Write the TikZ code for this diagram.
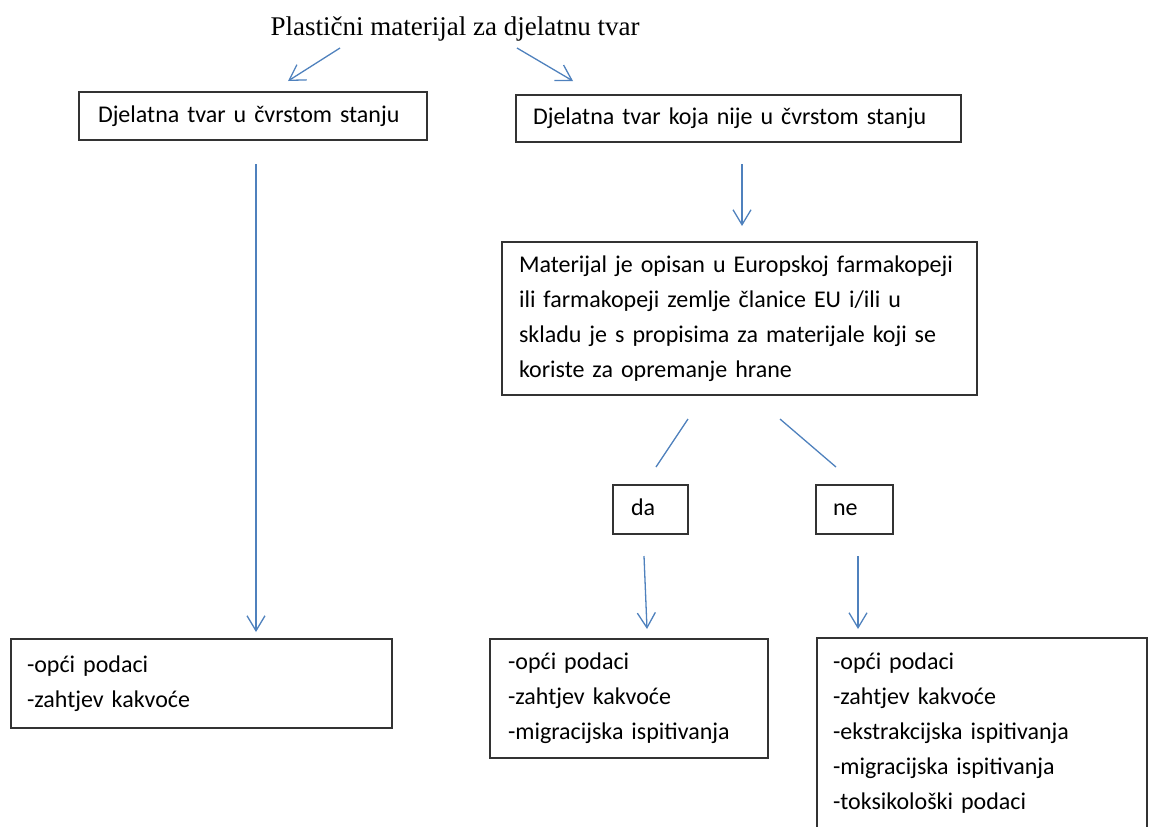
\documentclass[tikz,border=0pt]{standalone}
\usepackage{fontspec}
\setmainfont{Liberation Serif}
\newfontfamily\bodyfont{Carlito}
\usetikzlibrary{arrows.meta}
\definecolor{penBlue}{RGB}{79,129,189}
\tikzset{box/.style={draw=black!80,line width=1pt,align=left,inner ysep=2pt,
		font=\bodyfont\fontsize{12}{17.5}\selectfont},
	arr/.style={penBlue,line width=0.65pt,-{Straight Barb[length=7.5pt,width=9pt]}},
	lin/.style={penBlue,line width=0.65pt}}

\begin{document}
\begin{tikzpicture}[x=0.5pt,y=-0.5pt]
	\useasboundingbox (0,0) rectangle (1149,826);
	\node[font=\fontsize{13.5}{15}\selectfont,anchor=base] (title) at (455,35) {Plastični materijal za djelatnu tvar};
	\node[box,inner xsep=9.5pt,text width=155pt,minimum height=24pt] (solid) at (253,116) {Djelatna tvar u čvrstom stanju};
	\node[box,inner xsep=8.5pt,text width=205.5pt,minimum height=23.5pt] (notsolid) at (738.5,118.5) {Djelatna tvar koja nije u čvrstom stanju};
	\node[box,inner xsep=8.5pt,text width=220.5pt,minimum height=76.5pt] (pharma) at (739.5,318.5) {\mbox{Materijal je opisan u Europskoj farmakopeji}\\ili farmakopeji zemlje članice EU  i/ili  u\\skladu je s propisima za materijale koji se\\koriste za opremanje hrane};
	\node[box,inner xsep=9pt,text width=19.5pt,minimum height=24.5pt,text height=1.6ex,text depth=0.3ex] (da) at (650.5,509.5) {da};
	\node[box,inner xsep=8.5pt,text width=21.5pt,minimum height=24.5pt,text height=1.6ex,text depth=0.3ex] (ne) at (854.5,509.5) {ne};
	\node[box,inner xsep=8pt,text width=174.5pt,minimum height=44.5pt] (dataA) at (201.5,683.5) {-opći podaci\\-zahtjev kakvoće};
	\node[box,inner xsep=9pt,text width=121pt,minimum height=59.5pt] (dataB) at (629,698.5) {-opći podaci\\-zahtjev kakvoće\\-migracijska ispitivanja};
	\node[box,inner xsep=8pt,text width=149pt,minimum height=95pt] (dataC) at (982,733) {-opći podaci\\-zahtjev kakvoće\\-ekstrakcijska ispitivanja\\-migracijska ispitivanja\\-toksikološki podaci};
	% strelice
	\draw[arr] ([shift={(-115,13)}]title.base) -- ([shift={(35,-10)}]solid.north);
	\draw[arr] ([shift={(62,13)}]title.base) -- ([shift={(-165.5,-13)}]notsolid.north);
	\draw[arr] ([shift={(3,23)}]solid.south) -- ([shift={(54.5,-6)}]dataA.north);
	\draw[arr] ([shift={(3.5,21)}]notsolid.south) -- ([shift={(2.5,-15)}]pharma.north);
	\draw[lin] ([shift={(-51.5,23)}]pharma.south) -- ([shift={(5.5,-17)}]da.north);
	\draw[lin] ([shift={(40.5,23)}]pharma.south) -- ([shift={(-18.5,-17)}]ne.north);
	\draw[arr] ([shift={(-6.5,21)}]da.south) -- ([shift={(18,-9)}]dataB.north);
	\draw[arr] ([shift={(3.5,21)}]ne.south) -- ([shift={(-124,-8)}]dataC.north);
\end{tikzpicture}
\end{document}
